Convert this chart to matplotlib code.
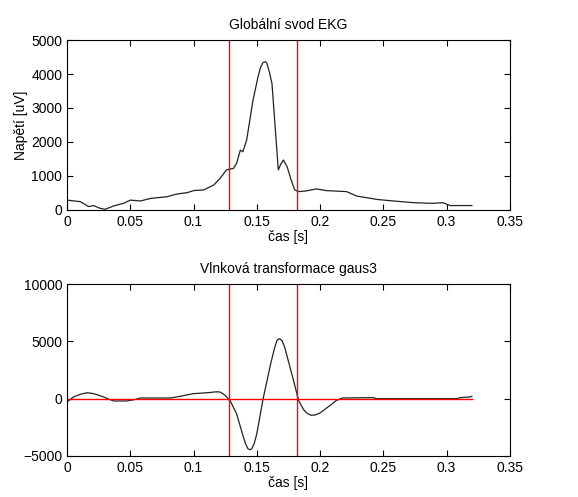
import matplotlib
matplotlib.use("Agg")
import matplotlib.pyplot as plt

plt.rcParams['font.family'] = ['Liberation Sans', 'DejaVu Sans']
plt.rcParams['font.size'] = 10

# globalni svod EKG
t_ekg = [0, 0.0105, 0.017, 0.021, 0.026, 0.030, 0.037, 0.045, 0.050, 0.058,
         0.066, 0.079, 0.087, 0.095, 0.100, 0.108, 0.116, 0.121, 0.126, 0.1316,
         0.134, 0.137, 0.139, 0.142, 0.147, 0.151, 0.153, 0.155, 0.157, 0.158,
         0.160, 0.162, 0.167, 0.169, 0.171, 0.174, 0.177, 0.180, 0.183, 0.189,
         0.197, 0.205, 0.221, 0.229, 0.245, 0.258, 0.274, 0.289, 0.297, 0.303,
         0.320]
u_ekg = [290, 245, 100, 130, 50, 20, 120, 200, 290, 265,
         340, 390, 470, 510, 570, 590, 735, 930, 1180, 1225,
         1370, 1760, 1715, 2060, 3230, 3920, 4200, 4340, 4360, 4310,
         4050, 3720, 1180, 1350, 1470, 1270, 900, 590, 540, 560,
         620, 570, 540, 410, 310, 265, 215, 195, 215, 130,
         130]

# vlnkova transformace gaus3
t_wt = [0, 0.005, 0.011, 0.016, 0.021, 0.025, 0.029, 0.033, 0.037, 0.047,
        0.053, 0.058, 0.068, 0.082, 0.089, 0.100, 0.111, 0.118, 0.121, 0.125,
        0.129, 0.134, 0.139, 0.141, 0.143, 0.1445, 0.146, 0.148, 0.150, 0.155,
        0.161, 0.164, 0.166, 0.168, 0.170, 0.172, 0.179, 0.183, 0.187, 0.190,
        0.193, 0.196, 0.200, 0.208, 0.213, 0.218, 0.242, 0.245, 0.308, 0.311,
        0.318, 0.320]
c_wt = [-290, 145, 400, 520, 440, 300, 145, -50, -200, -200,
        -90, 60, 60, 60, 200, 440, 520, 600, 580, 290,
        -200, -1310, -3200, -3900, -4370, -4450, -4370, -3900, -3060, 0,
        3060, 4400, 5100, 5240, 5050, 4510, 1600, -145, -960, -1300,
        -1450, -1420, -1250, -580, -145, 60, 90, 0, 0, 90,
        145, 200]

hranice = [0.128, 0.182]

fig = plt.figure(figsize=(5.78, 4.97), dpi=100)
ax1 = fig.add_axes([0.116, 0.5775, 0.766, 0.342])
ax2 = fig.add_axes([0.116, 0.0825, 0.766, 0.346])

for ax in (ax1, ax2):
    ax.tick_params(direction='in', top=True, right=True, length=4, width=0.8)
    for s in ax.spines.values():
        s.set_linewidth(0.8)
    ax.set_xlim(0, 0.35)
    ax.set_xticks([0, 0.05, 0.1, 0.15, 0.2, 0.25, 0.3, 0.35])
    ax.set_xticklabels(['0', '0.05', '0.1', '0.15', '0.2', '0.25', '0.3', '0.35'])
    ax.set_xlabel('čas [s]', labelpad=1)

ax1.plot(t_ekg, u_ekg, color='#222222', lw=0.9)
for h in hranice:
    ax1.axvline(h, color='red', lw=1)
ax1.set_ylim(0, 5000)
ax1.set_yticks([0, 1000, 2000, 3000, 4000, 5000])
ax1.set_ylabel('Napětí [uV]', labelpad=2)
ax1.set_title('Globální svod EKG', fontsize=10, pad=8)

ax2.plot(t_wt, c_wt, color='#222222', lw=0.9)
for h in hranice:
    ax2.axvline(h, color='red', lw=1)
ax2.plot([0, 0.32], [0, 0], color='red', lw=1)
ax2.set_ylim(-5000, 10000)
ax2.set_yticks([-5000, 0, 5000, 10000])
ax2.set_title('Vlnková transformace gaus3', fontsize=10, pad=8)

fig.savefig('out.png', dpi=100)
